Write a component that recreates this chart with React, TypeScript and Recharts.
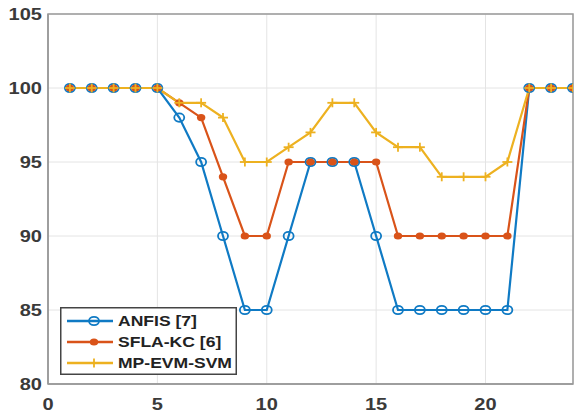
import React from 'react';
import { LineChart, Line, XAxis, YAxis, CartesianGrid, ReferenceArea } from 'recharts';

const steps = [1, 2, 3, 4, 5, 6, 7, 8, 9, 10, 11, 12, 13, 14, 15, 16, 17, 18, 19, 20, 21, 22, 23, 24];
const anfis = [100, 100, 100, 100, 100, 98, 95, 90, 85, 85, 90, 95, 95, 95, 90, 85, 85, 85, 85, 85, 85, 100, 100, 100];
const sflaKc = [100, 100, 100, 100, 100, 99, 98, 94, 90, 90, 95, 95, 95, 95, 95, 90, 90, 90, 90, 90, 90, 100, 100, 100];
const mpEvmSvm = [100, 100, 100, 100, 100, 99, 99, 98, 95, 95, 96, 97, 99, 99, 97, 96, 96, 94, 94, 94, 95, 100, 100, 100];
const xTicks = [0, 5, 10, 15, 20];
const yTicks = [80, 85, 90, 95, 100, 105];
const seriesNames = ['ANFIS [7]', 'SFLA-KC [6]', 'MP-EVM-SVM'];

const BLUE = '#0f7ac4';
const ORANGE = '#D95319';
const YELLOW = '#EDB120';
const FONT = '"Liberation Sans", Arial, sans-serif';
const TEXT = '#3a3a3a';
const SX = 1.25;

const data = steps.map((s, i) => ({ x: s, anfis: anfis[i], sfla: sflaKc[i], mp: mpEvmSvm[i] }));

const CircleDot = (p: any) => (
  <ellipse key={`c${p.index}`} cx={p.cx} cy={p.cy} rx={5} ry={4.2} fill="none" stroke={BLUE} strokeWidth={1.8} />
);
const FilledDot = (p: any) => (
  <ellipse key={`f${p.index}`} cx={p.cx} cy={p.cy} rx={4.2} ry={3.6} fill={ORANGE} stroke="none" />
);
const PlusDot = (p: any) => (
  <g key={`p${p.index}`}>
    <line x1={p.cx - 5} x2={p.cx + 5} y1={p.cy} y2={p.cy} stroke={YELLOW} strokeWidth={1.8} />
    <line x1={p.cx} x2={p.cx} y1={p.cy - 4.5} y2={p.cy + 4.5} stroke={YELLOW} strokeWidth={1.8} />
  </g>
);

const XTick = (p: any) => {
  const x = p.x;
  const y = p.y;
  return (
    <text
      x={x}
      y={y + 26}
      textAnchor="middle"
      transform={`translate(${x},0) scale(${SX},1) translate(${-x},0)`}
      fontFamily={FONT}
      fontWeight="bold"
      fontSize={16}
      fill={TEXT}
    >
      {p.payload.value}
    </text>
  );
};

const YTick = (p: any) => {
  const x = p.x - 6;
  const y = p.y;
  return (
    <text
      x={x}
      y={y + 6}
      textAnchor="end"
      transform={`translate(${x},0) scale(${SX},1) translate(${-x},0)`}
      fontFamily={FONT}
      fontWeight="bold"
      fontSize={16}
      fill={TEXT}
    >
      {p.payload.value}
    </text>
  );
};

const LegendBox = () => {
  const colors = [BLUE, ORANGE, YELLOW];
  const rows = [14, 35, 56];
  return (
    <svg width={177} height={68} style={{ display: 'block' }}>
      <rect x={0.75} y={0.75} width={175.5} height={66.5} fill="#fff" stroke="#444" strokeWidth={1.5} />
      {seriesNames.map((n, i) => {
        const cy = rows[i];
        const cx = 34;
        const tx = 58;
        return (
          <g key={n}>
            <line x1={7} x2={53} y1={cy} y2={cy} stroke={colors[i]} strokeWidth={2.4} />
            {i === 0 && <ellipse cx={cx} cy={cy} rx={5} ry={4.2} fill="none" stroke={BLUE} strokeWidth={1.8} />}
            {i === 1 && <ellipse cx={cx} cy={cy} rx={4.2} ry={3.6} fill={ORANGE} />}
            {i === 2 && (
              <g>
                <line x1={cx - 5} x2={cx + 5} y1={cy} y2={cy} stroke={YELLOW} strokeWidth={1.8} />
                <line x1={cx} x2={cx} y1={cy - 4.5} y2={cy + 4.5} stroke={YELLOW} strokeWidth={1.8} />
              </g>
            )}
            <text
              x={tx}
              y={cy + 5.5}
              transform={`translate(${tx},0) scale(1.17,1) translate(${-tx},0)`}
              fontFamily={FONT}
              fontWeight="bold"
              fontSize={15}
              fill="#222"
            >
              {n}
            </text>
          </g>
        );
      })}
    </svg>
  );
};

export default function App() {
  return (
    <div style={{ position: 'absolute', left: 0, top: 0, width: 574, height: 415, background: '#fff' }}>
      <LineChart width={574} height={415} data={data} margin={{ top: 14, right: 1, left: 0, bottom: 0 }}>
        <CartesianGrid stroke="#e4e4e4" strokeWidth={1} />
        <XAxis
          dataKey="x"
          type="number"
          domain={[0, 24]}
          ticks={xTicks}
          tick={<XTick />}
          tickLine={false}
          tickSize={0}
          tickMargin={0}
          height={31}
          axisLine={{ stroke: '#999', strokeWidth: 1.5 }}
          allowDataOverflow
        />
        <YAxis
          type="number"
          domain={[80, 105]}
          ticks={yTicks}
          tick={<YTick />}
          tickLine={false}
          tickSize={0}
          tickMargin={0}
          width={48}
          axisLine={{ stroke: '#999', strokeWidth: 1.5 }}
          allowDataOverflow
        />
        <ReferenceArea x1={0} x2={24} y1={80} y2={105} fill="none" stroke="#999" strokeWidth={1.5} ifOverflow="visible" />
        <Line dataKey="anfis" stroke={BLUE} strokeWidth={2.2} dot={CircleDot} isAnimationActive={false} />
        <Line dataKey="sfla" stroke={ORANGE} strokeWidth={2.2} dot={FilledDot} isAnimationActive={false} />
        <Line dataKey="mp" stroke={YELLOW} strokeWidth={2.2} dot={PlusDot} isAnimationActive={false} />
      </LineChart>
      <div style={{ position: 'absolute', left: 60, top: 307 }}>
        <LegendBox />
      </div>
    </div>
  );
}
